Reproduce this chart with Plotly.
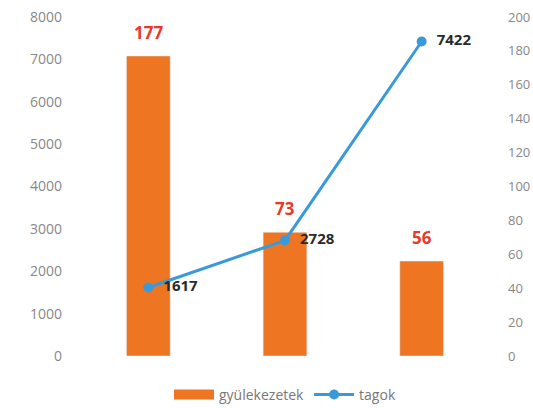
import plotly.graph_objects as go

categories = ["A", "B", "C"]
gyulekezetek = [177, 73, 56]
tagok = [1617, 2728, 7422]
left_ticks = [0, 1000, 2000, 3000, 4000, 5000, 6000, 7000, 8000]
right_ticks = [0, 20, 40, 60, 80, 100, 120, 140, 160, 180, 200]

FONT = "Open Sans"
ORANGE = "#ee7623"
BLUE = "#3a9ad9"
fig = go.Figure()
fig.add_trace(go.Bar(
    x=categories, y=gyulekezetek, name="gyülekezetek", yaxis="y",
    marker=dict(color=ORANGE), showlegend=False,
))
# legend swatch for bars (wide rectangle)
fig.add_trace(go.Scatter(
    x=[None], y=[None], name="gyülekezetek", yaxis="y", mode="lines",
    line=dict(color=ORANGE, width=10),
))
fig.add_trace(go.Scatter(
    x=categories, y=tagok, name="tagok", yaxis="y2",
    mode="lines+markers+text",
    line=dict(color=BLUE, width=3),
    marker=dict(color=BLUE, size=10),
    text=["  " + str(v) for v in tagok], textposition="middle right",
    textfont=dict(color="#2a2a2a", size=15, family=FONT, weight="bold"),
    cliponaxis=False,
))
for c, v in zip(categories, gyulekezetek):
    fig.add_annotation(x=c, y=v, xref="x", yref="y", text=str(v), showarrow=False,
                       yanchor="bottom", yshift=10,
                       font=dict(color="#e8392a", size=17, family=FONT, weight="bold"))
fig.update_layout(
    width=533, height=408,
    margin=dict(l=80, r=43, t=17, b=52, autoexpand=False),
    paper_bgcolor="white", plot_bgcolor="white",
    font=dict(family=FONT, color="#888888", size=14),
    bargap=0.68,
    showlegend=True,
    legend=dict(orientation="h", x=0.5, xanchor="center", y=-0.115, yanchor="middle",
                font=dict(size=14, color="#777777"), traceorder="normal",
                itemwidth=40),
    xaxis=dict(showticklabels=False, showgrid=False, zeroline=False, showline=False, ticks=""),
    yaxis=dict(range=[0, 200], tickvals=right_ticks, side="right",
               showgrid=False, zeroline=False, showline=False, ticks="",
               ticklabelstandoff=17, automargin=False, tickfont=dict(size=13)),
    yaxis2=dict(range=[0, 8000], tickvals=left_ticks, overlaying="y", side="left",
                showgrid=False, zeroline=False, showline=False, ticks="",
                ticklabelstandoff=17, automargin=False),
)
fig.write_html("out.html", config={"displayModeBar": False},
               post_script="document.body.style.margin='0';")
